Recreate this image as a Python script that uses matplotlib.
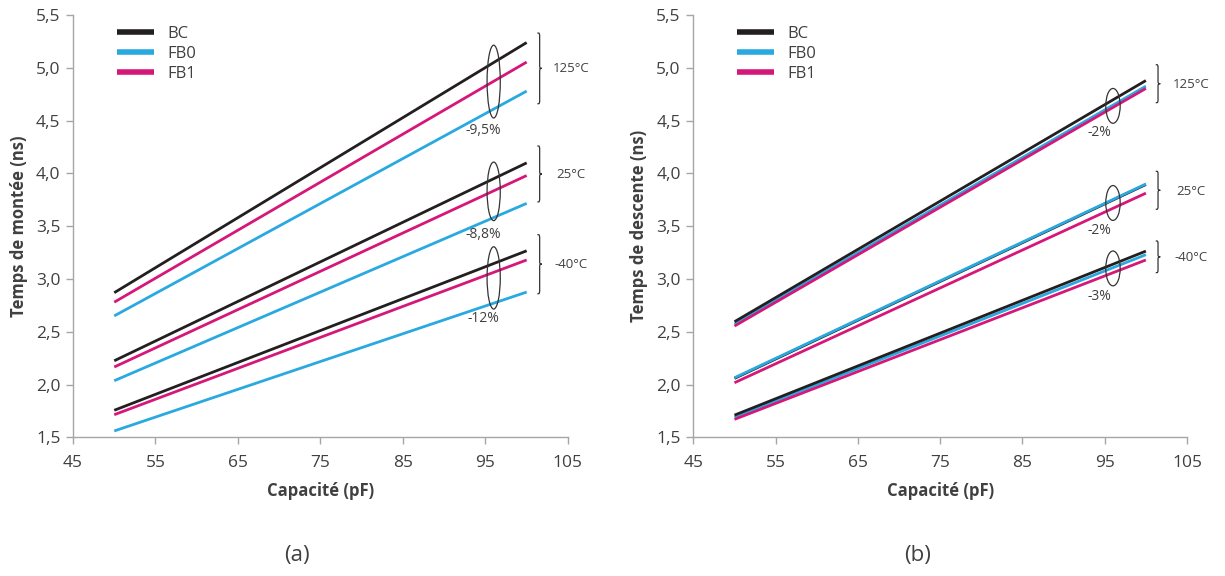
import matplotlib
matplotlib.use("Agg")
import matplotlib.pyplot as plt
from matplotlib.path import Path
from matplotlib.patches import PathPatch, Ellipse

plt.rcParams['font.family'] = ['Open Sans', 'DejaVu Sans']

# ---- data ----
cap = [50, 100]
series = ["BC", "FB0", "FB1"]
temps = ["125°C", "25°C", "-40°C"]

# (a) Temps de montée (ns)
rise_BC = {"125°C": [2.87, 5.24], "25°C": [2.225, 4.10], "-40°C": [1.756, 3.267]}
rise_FB0 = {"125°C": [2.65, 4.78], "25°C": [2.036, 3.716], "-40°C": [1.56, 2.876]}
rise_FB1 = {"125°C": [2.78, 5.055], "25°C": [2.166, 3.98], "-40°C": [1.714, 3.18]}
rise_pct = ["-9,5%", "-8,8%", "-12%"]

# (b) Temps de descente (ns)
fall_BC = {"125°C": [2.595, 4.88], "25°C": [2.058, 3.895], "-40°C": [1.71, 3.264]}
fall_FB0 = {"125°C": [2.573, 4.827], "25°C": [2.064, 3.90], "-40°C": [1.69, 3.23]}
fall_FB1 = {"125°C": [2.554, 4.805], "25°C": [2.017, 3.813], "-40°C": [1.67, 3.18]}
fall_pct = ["-2%", "-2%", "-3%"]

xticks = [45, 55, 65, 75, 85, 95, 105]
yticks = [1.5, 2.0, 2.5, 3.0, 3.5, 4.0, 4.5, 5.0, 5.5]

colors = {"BC": "#231F20", "FB0": "#29A9E0", "FB1": "#D6177A"}
txt_color = "#404040"
spine_color = "#A6A6A6"

fig = plt.figure(figsize=(12.25, 5.76), dpi=100)
axA = fig.add_axes([0.0596, 0.2408, 0.404, 0.733])
axB = fig.add_axes([0.566, 0.2408, 0.403, 0.733])


def brace(ax, x0, y1, y2, w=0.55, d=0.05):
    xm = x0 + w / 2
    ym = (y1 + y2) / 2
    verts = [(x0, y2), (xm, y2), (xm, y2), (xm, y2 - d),
             (xm, ym + d),
             (xm, ym), (xm, ym), (x0 + w, ym),
             (xm, ym), (xm, ym), (xm, ym - d),
             (xm, y1 + d),
             (xm, y1), (xm, y1), (x0, y1)]
    codes = [Path.MOVETO, Path.CURVE4, Path.CURVE4, Path.CURVE4,
             Path.LINETO,
             Path.CURVE4, Path.CURVE4, Path.CURVE4,
             Path.CURVE4, Path.CURVE4, Path.CURVE4,
             Path.LINETO,
             Path.CURVE4, Path.CURVE4, Path.CURVE4]
    p = PathPatch(Path(verts, codes), fill=False, lw=0.9, ec="#333333",
                  clip_on=False)
    ax.add_patch(p)


def setup(ax, ylabel):
    ax.set_xlim(45, 105)
    ax.set_ylim(1.5, 5.5)
    ax.set_xticks(xticks)
    ax.set_yticks(yticks)
    ax.set_xticklabels([str(t) for t in xticks])
    ax.set_yticklabels([f"{t:.1f}".replace(".", ",") for t in yticks])
    for s in ["top", "right"]:
        ax.spines[s].set_visible(False)
    for s in ["left", "bottom"]:
        ax.spines[s].set_color(spine_color)
        ax.spines[s].set_linewidth(1.0)
    ax.tick_params(axis="both", colors=spine_color, length=5, width=1.0,
                   labelcolor=txt_color, labelsize=12.5)
    ax.tick_params(axis="x", pad=8)
    ax.tick_params(axis="y", pad=4)
    ax.set_xlabel("Capacité (pF)", fontsize=12, fontweight="bold",
                  color=txt_color, labelpad=8)
    ax.set_ylabel(ylabel, fontsize=12, fontweight="bold", color=txt_color,
                  labelpad=6)


def draw(ax, BC, FB0, FB1):
    data = {"BC": BC, "FB0": FB0, "FB1": FB1}
    for t in temps:
        for s in ["FB0", "FB1", "BC"] if t != "25°C" else ["BC", "FB1", "FB0"]:
            ax.plot(cap, data[s][t], color=colors[s], lw=2.0,
                    solid_capstyle="butt",
                    label=s if t == "125°C" else None, zorder=3)


# ---- panel (a) ----
setup(axA, "Temps de montée (ns)")
draw(axA, rise_BC, rise_FB0, rise_FB1)
ellA = [(4.87, 0.69), (3.83, 0.555), (3.01, 0.59)]
for (cy, h) in ellA:
    axA.add_patch(Ellipse((96.0, cy), 1.6, h, fill=False, ec="#333333",
                          lw=0.9, zorder=4))
for txt, y in zip(rise_pct, [4.41, 3.42, 2.63]):
    axA.text(94.7, y, txt, ha="center", va="center", fontsize=10,
             color=txt_color)
bracesA = [(4.66, 5.33, 4.99), (3.73, 4.26, 3.99), (2.86, 3.42, 3.14)]
for (y1, y2, yt), t in zip(bracesA, temps):
    brace(axA, 101.3, y1, y2)
    axA.text(105.4, yt, t, ha="center", va="center", fontsize=9.5,
             color=txt_color, clip_on=False)

# ---- panel (b) ----
setup(axB, "Temps de descente (ns)")
draw(axB, fall_BC, fall_FB0, fall_FB1)
ellB = [(4.64, 0.33), (3.72, 0.33), (3.10, 0.33)]
for (cy, h) in ellB:
    axB.add_patch(Ellipse((96.0, cy), 1.75, h, fill=False, ec="#333333",
                          lw=0.9, zorder=4))
for txt, y in zip(fall_pct, [4.39, 3.46, 2.83]):
    axB.text(94.3, y, txt, ha="center", va="center", fontsize=10,
             color=txt_color)
bracesB = [(4.67, 5.03, 4.84), (3.66, 4.02, 3.83), (3.06, 3.36, 3.20)]
for (y1, y2, yt), t in zip(bracesB, temps):
    brace(axB, 101.2, y1, y2, d=0.04)
    axB.text(105.5, yt, t, ha="center", va="center", fontsize=9.5,
             color=txt_color, clip_on=False)

for ax in (axA, axB):
    h, l = ax.get_legend_handles_labels()
    order = [l.index(s) for s in series]
    leg = ax.legend([h[i] for i in order], [l[i] for i in order],
                    loc="upper left", bbox_to_anchor=(0.089, 0.975),
                    frameon=False, fontsize=12, handlelength=2.2,
                    handletextpad=0.8, labelspacing=0.25, borderpad=0,
                    borderaxespad=0)
    for line in leg.get_lines():
        line.set_linewidth(4)
    for t in leg.get_texts():
        t.set_color(txt_color)

fig.text(297 / 1225, 1 - 555 / 576, "(a)", ha="center", va="center",
         fontsize=16, color=txt_color)
fig.text(918 / 1225, 1 - 555 / 576, "(b)", ha="center", va="center",
         fontsize=16, color=txt_color)

fig.savefig("out.png", dpi=100)
